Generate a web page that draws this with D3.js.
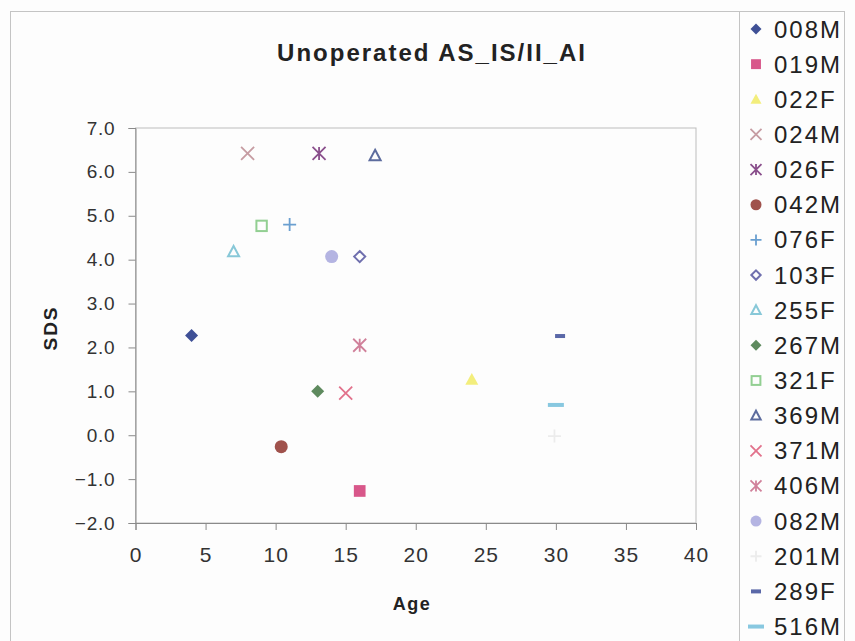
<!DOCTYPE html>
<html>
<head>
<meta charset="utf-8">
<script src="https://cdn.jsdelivr.net/npm/d3@7"></script>
<style>
html,body{margin:0;padding:0;background:#fdfdfd;}
svg{display:block;font-family:"Liberation Sans",Arial,sans-serif;}
</style>
</head>
<body>
<svg id="chart" width="855" height="641"></svg>
<script>
// ---- data ----
const seriesNames = ["008M","019M","022F","024M","026F","042M","076F","103F","255F","267M","321F","369M","371M","406M","082M","201M","289F","516M"];
const ages        = [4.0, 16.0, 24.0, 8.0, 13.1, 10.4, 11.0, 16.0, 7.0, 13.0, 9.0, 17.1, 15.0, 16.0, 14.0, 29.9, 30.3, 30.0];
const sdsValues   = [2.27, -1.27, 1.27, 6.42, 6.42, -0.26, 4.8, 4.07, 4.18, 1.0, 4.77, 6.37, 0.96, 2.05, 4.07, -0.02, 2.26, 0.69];
const markerTypes = ["diamond","square","triangle","cross","star","circle","plus","diamondOpen","triangleOpen","diamond","squareOpen","triangleOpen","cross","star","circle","plus","dashShort","dashLong"];
const colors      = ["#3f5096","#d8578a","#f3ee7c","#c69ca2","#8a4f8c","#a0524c","#6a9fd0","#6f6fae","#88c8d8","#5e8a5e","#92cf92","#5d6c9e","#e2728c","#d0809a","#b4b4e2","#ececec","#5a68a8","#88c8e0"];
const xTicks = [0,5,10,15,20,25,30,35,40];
const yTicks = [-2,-1,0,1,2,3,4,5,6,7];
const titleText = "Unoperated AS_IS/II_AI";
const xLabel = "Age";
const yLabel = "SDS";

// ---- layout ----
const svg = d3.select("#chart");
const plot = {left:135.5, right:696, top:128, bottom:523};
const x = d3.scaleLinear().domain([0,40]).range([plot.left, plot.right]);
const y = d3.scaleLinear().domain([-2,7]).range([plot.bottom, plot.top]);

// outer frame
svg.append("rect").attr("x",10.5).attr("y",11.5).attr("width",834).attr("height",640)
  .attr("fill","none").attr("stroke","#c4c4c4").attr("stroke-width",1);

// plot area border
svg.append("rect").attr("x",plot.left).attr("y",plot.top)
  .attr("width",plot.right-plot.left).attr("height",plot.bottom-plot.top)
  .attr("fill","none").attr("stroke","#bdbdbd").attr("stroke-width",1);

// axes
const xAxis = d3.axisBottom(x).tickValues(xTicks).tickSize(7).tickPadding(17).tickFormat(d3.format("d"));
const yAxis = d3.axisLeft(y).tickValues(yTicks).tickSize(7).tickPadding(13).tickFormat(d3.format(".1f"));
const gx = svg.append("g").attr("transform",`translate(0,${plot.bottom})`).call(xAxis);
const gy = svg.append("g").attr("transform",`translate(${plot.left},0)`).call(yAxis);
[gx,gy].forEach(g=>{
  g.select(".domain").attr("stroke","#8a8a8a");
  g.selectAll(".tick line").attr("stroke","#8a8a8a");
  g.selectAll(".tick text").attr("fill","#333").style("font-family","'Liberation Sans',Arial,sans-serif");
});
gx.selectAll(".tick text").style("font-size","21px").style("letter-spacing","1px");
gy.selectAll(".tick text").style("font-size","19px").style("letter-spacing","0.8px");

// titles
svg.append("text").attr("x",432).attr("y",61).attr("text-anchor","middle")
  .style("font-size","24px").style("font-weight","bold").style("letter-spacing","2px").attr("fill","#222").text(titleText);
svg.append("text").attr("x",412).attr("y",610).attr("text-anchor","middle")
  .style("font-size","18px").style("font-weight","bold").style("letter-spacing","1.5px").attr("fill","#222").text(xLabel);
svg.append("text").attr("transform","translate(57,328) rotate(-90)").attr("text-anchor","middle")
  .style("font-size","19px").style("font-weight","bold").style("letter-spacing","2px").attr("fill","#222").text(yLabel);

// marker drawing
function drawMarker(g, type, color, s){
  const r = s/2;
  switch(type){
    case "diamond":
      g.append("path").attr("d",`M0,${-r}L${r},0L0,${r}L${-r},0Z`).attr("fill",color); break;
    case "diamondOpen":
      g.append("path").attr("d",`M0,${-r*0.85}L${r*0.85},0L0,${r*0.85}L${-r*0.85},0Z`).attr("fill","none").attr("stroke",color).attr("stroke-width",2); break;
    case "square":
      g.append("rect").attr("x",-r*0.9).attr("y",-r*0.9).attr("width",r*1.8).attr("height",r*1.8).attr("fill",color); break;
    case "squareOpen":
      g.append("rect").attr("x",-r*0.8).attr("y",-r*0.8).attr("width",r*1.6).attr("height",r*1.6).attr("fill","none").attr("stroke",color).attr("stroke-width",2); break;
    case "triangle":
      g.append("path").attr("d",`M0,${-r}L${r},${r*0.8}L${-r},${r*0.8}Z`).attr("fill",color); break;
    case "triangleOpen":
      g.append("path").attr("d",`M0,${-r*0.9}L${r*0.85},${r*0.7}L${-r*0.85},${r*0.7}Z`).attr("fill","none").attr("stroke",color).attr("stroke-width",2); break;
    case "cross":
      g.append("path").attr("d",`M${-r},${-r}L${r},${r}M${r},${-r}L${-r},${r}`).attr("stroke",color).attr("stroke-width",1.8); break;
    case "star":
      g.append("path").attr("d",`M${-r},${-r}L${r},${r}M${r},${-r}L${-r},${r}M0,${-r}L0,${r}`).attr("stroke",color).attr("stroke-width",1.8); break;
    case "plus":
      g.append("path").attr("d",`M${-r},0L${r},0M0,${-r}L0,${r}`).attr("stroke",color).attr("stroke-width",1.8); break;
    case "circle":
      g.append("circle").attr("r",r).attr("fill",color); break;
    case "dashShort":
      g.append("rect").attr("x",-5).attr("y",-2).attr("width",10).attr("height",4).attr("fill",color); break;
    case "dashLong":
      g.append("rect").attr("x",-8).attr("y",-2).attr("width",16).attr("height",4).attr("fill",color); break;
  }
}

// points
const pts = svg.append("g");
seriesNames.forEach((n,i)=>{
  const g = pts.append("g").attr("transform",`translate(${x(ages[i])},${y(sdsValues[i])})`);
  drawMarker(g, markerTypes[i], colors[i], 13);
});

// legend
svg.append("line").attr("x1",739.5).attr("x2",739.5).attr("y1",11).attr("y2",641).attr("stroke","#c4c4c4");
const leg = svg.append("g");
seriesNames.forEach((n,i)=>{
  const yy = 29 + i*35.15;
  const g = leg.append("g").attr("transform",`translate(756,${yy})`);
  drawMarker(g, markerTypes[i], colors[i], 11);
  leg.append("text").attr("x",774).attr("y",yy+8.5).style("font-size","24px").style("letter-spacing","2px").attr("fill","#222").text(n);
});
</script>
</body>
</html>
